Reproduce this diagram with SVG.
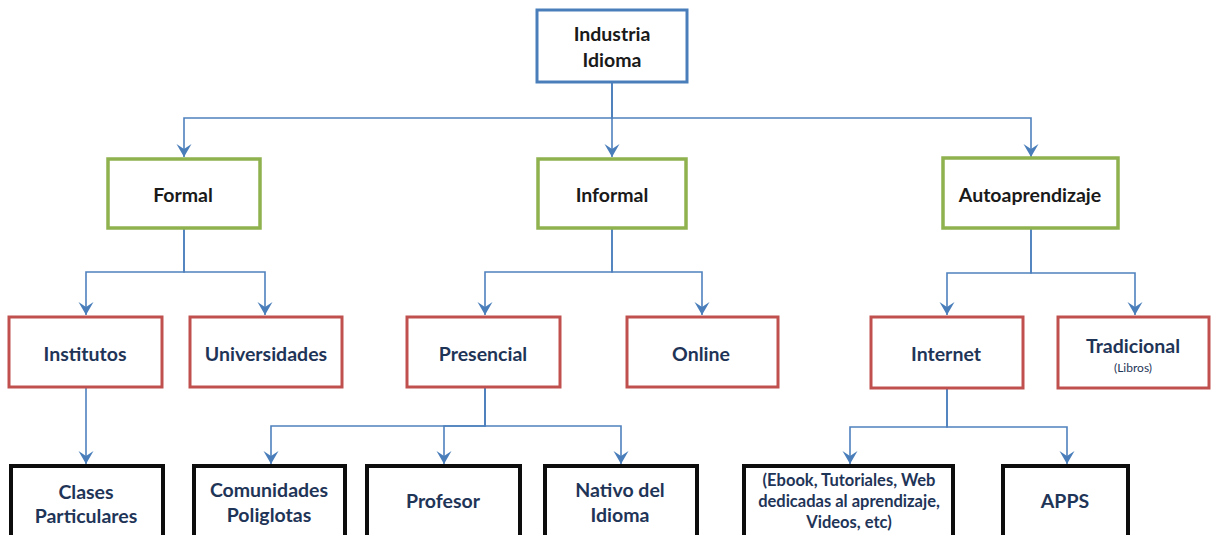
<svg xmlns="http://www.w3.org/2000/svg" width="1211" height="535" viewBox="0 0 1211 535">
  <defs>
    <style>
      .box { fill: #ffffff; }
      .root { stroke: #4a7ebb; stroke-width: 3; }
      .l1 { stroke: #8fb24f; stroke-width: 3.5; }
      .l2 { stroke: #c0504d; stroke-width: 3; }
      .l3 { stroke: #0d0d0d; stroke-width: 4; }
      text { font-family: Lato, "Open Sans", "Liberation Sans", sans-serif; font-weight: bold; text-anchor: middle; dominant-baseline: central; }
      .dark { fill: #1a1a1a; font-size: 19.5px; }
      .navy { fill: #1f3558; font-size: 19.5px; }
      .small { fill: #1f3558; font-size: 16.5px; }
      .tiny { fill: #1f3558; font-size: 12px; font-weight: normal; }
      .conn { fill: none; stroke: #4f81bd; stroke-width: 1.6; marker-end: url(#arrow); }
    </style>
    <marker id="arrow" markerUnits="userSpaceOnUse" markerWidth="16" markerHeight="16" refX="13" refY="7.5" orient="auto">
      <path d="M0,0 L13,7.5 L0,15 L5,7.5 z" fill="#4a7ebb"/>
    </marker>
  </defs>
  <rect width="1211" height="535" fill="#ffffff"/>

  <!-- connectors -->
  <g id="connectors">
    <path class="conn" d="M612,82 V118 H184 V157"/>
    <path class="conn" d="M612,82 V157"/>
    <path class="conn" d="M612,82 V118 H1031 V157"/>
    <path class="conn" d="M184,228 V272 H86 V315"/>
    <path class="conn" d="M184,228 V272 H265 V315"/>
    <path class="conn" d="M612,228 V272 H485 V315"/>
    <path class="conn" d="M612,228 V272 H702 V315"/>
    <path class="conn" d="M1031,228 V273 H947 V315"/>
    <path class="conn" d="M1031,228 V273 H1135 V315"/>
    <path class="conn" d="M86,387 V464"/>
    <path class="conn" d="M485,387 V426 H271 V464"/>
    <path class="conn" d="M485,387 V426 H444 V464"/>
    <path class="conn" d="M485,387 V426 H621 V464"/>
    <path class="conn" d="M947,388 V427 H850 V464"/>
    <path class="conn" d="M947,388 V427 H1067 V464"/>
  </g>

  <!-- root -->
  <g id="industria-idioma">
    <rect class="box root" x="537" y="10" width="150" height="72"/>
    <text class="dark" x="612" y="33">Industria</text>
    <text class="dark" x="612" y="59">Idioma</text>
  </g>

  <!-- first level -->
  <g id="formal">
    <rect class="box l1" x="108" y="159" width="152" height="69"/>
    <text class="dark" x="183" y="194">Formal</text>
  </g>
  <g id="informal">
    <rect class="box l1" x="538" y="159" width="148" height="69"/>
    <text class="dark" x="612" y="194">Informal</text>
  </g>
  <g id="autoaprendizaje">
    <rect class="box l1" x="943" y="158" width="175" height="70"/>
    <text class="dark" x="1030" y="194">Autoaprendizaje</text>
  </g>

  <!-- second level -->
  <g id="institutos">
    <rect class="box l2" x="9" y="317" width="153" height="70"/>
    <text class="navy" x="85" y="353">Institutos</text>
  </g>
  <g id="universidades">
    <rect class="box l2" x="190" y="317" width="152" height="70"/>
    <text class="navy" x="266" y="353">Universidades</text>
  </g>
  <g id="presencial">
    <rect class="box l2" x="407" y="317" width="153" height="70"/>
    <text class="navy" x="483" y="353">Presencial</text>
  </g>
  <g id="online">
    <rect class="box l2" x="627" y="317" width="151" height="70"/>
    <text class="navy" x="701" y="353">Online</text>
  </g>
  <g id="internet">
    <rect class="box l2" x="871" y="317" width="152" height="71"/>
    <text class="navy" x="946" y="353">Internet</text>
  </g>
  <g id="tradicional">
    <rect class="box l2" x="1058" y="317" width="151" height="71"/>
    <text class="navy" x="1133" y="345">Tradicional</text>
    <text class="tiny" x="1133" y="367">(Libros)</text>
  </g>

  <!-- third level -->
  <g id="clases-particulares">
    <rect class="box l3" x="11" y="466" width="152" height="80"/>
    <text class="navy" x="86" y="491">Clases</text>
    <text class="navy" x="86" y="515">Particulares</text>
  </g>
  <g id="comunidades-poliglotas">
    <rect class="box l3" x="194" y="466" width="151" height="80"/>
    <text class="navy" x="269" y="489">Comunidades</text>
    <text class="navy" x="269" y="514">Poliglotas</text>
  </g>
  <g id="profesor">
    <rect class="box l3" x="367" y="466" width="153" height="80"/>
    <text class="navy" x="443" y="500">Profesor</text>
  </g>
  <g id="nativo-del-idioma">
    <rect class="box l3" x="545" y="466" width="152" height="80"/>
    <text class="navy" x="620" y="489">Nativo del</text>
    <text class="navy" x="620" y="514">Idioma</text>
  </g>
  <g id="recursos-web">
    <rect class="box l3" x="744" y="466" width="209" height="80"/>
    <text class="small" x="849" y="480">(Ebook, Tutoriales, Web</text>
    <text class="small" x="849" y="501">dedicadas al aprendizaje,</text>
    <text class="small" x="849" y="522">Videos, etc)</text>
  </g>
  <g id="apps">
    <rect class="box l3" x="1003" y="466" width="125" height="80"/>
    <text class="navy" x="1065" y="500">APPS</text>
  </g>
</svg>
